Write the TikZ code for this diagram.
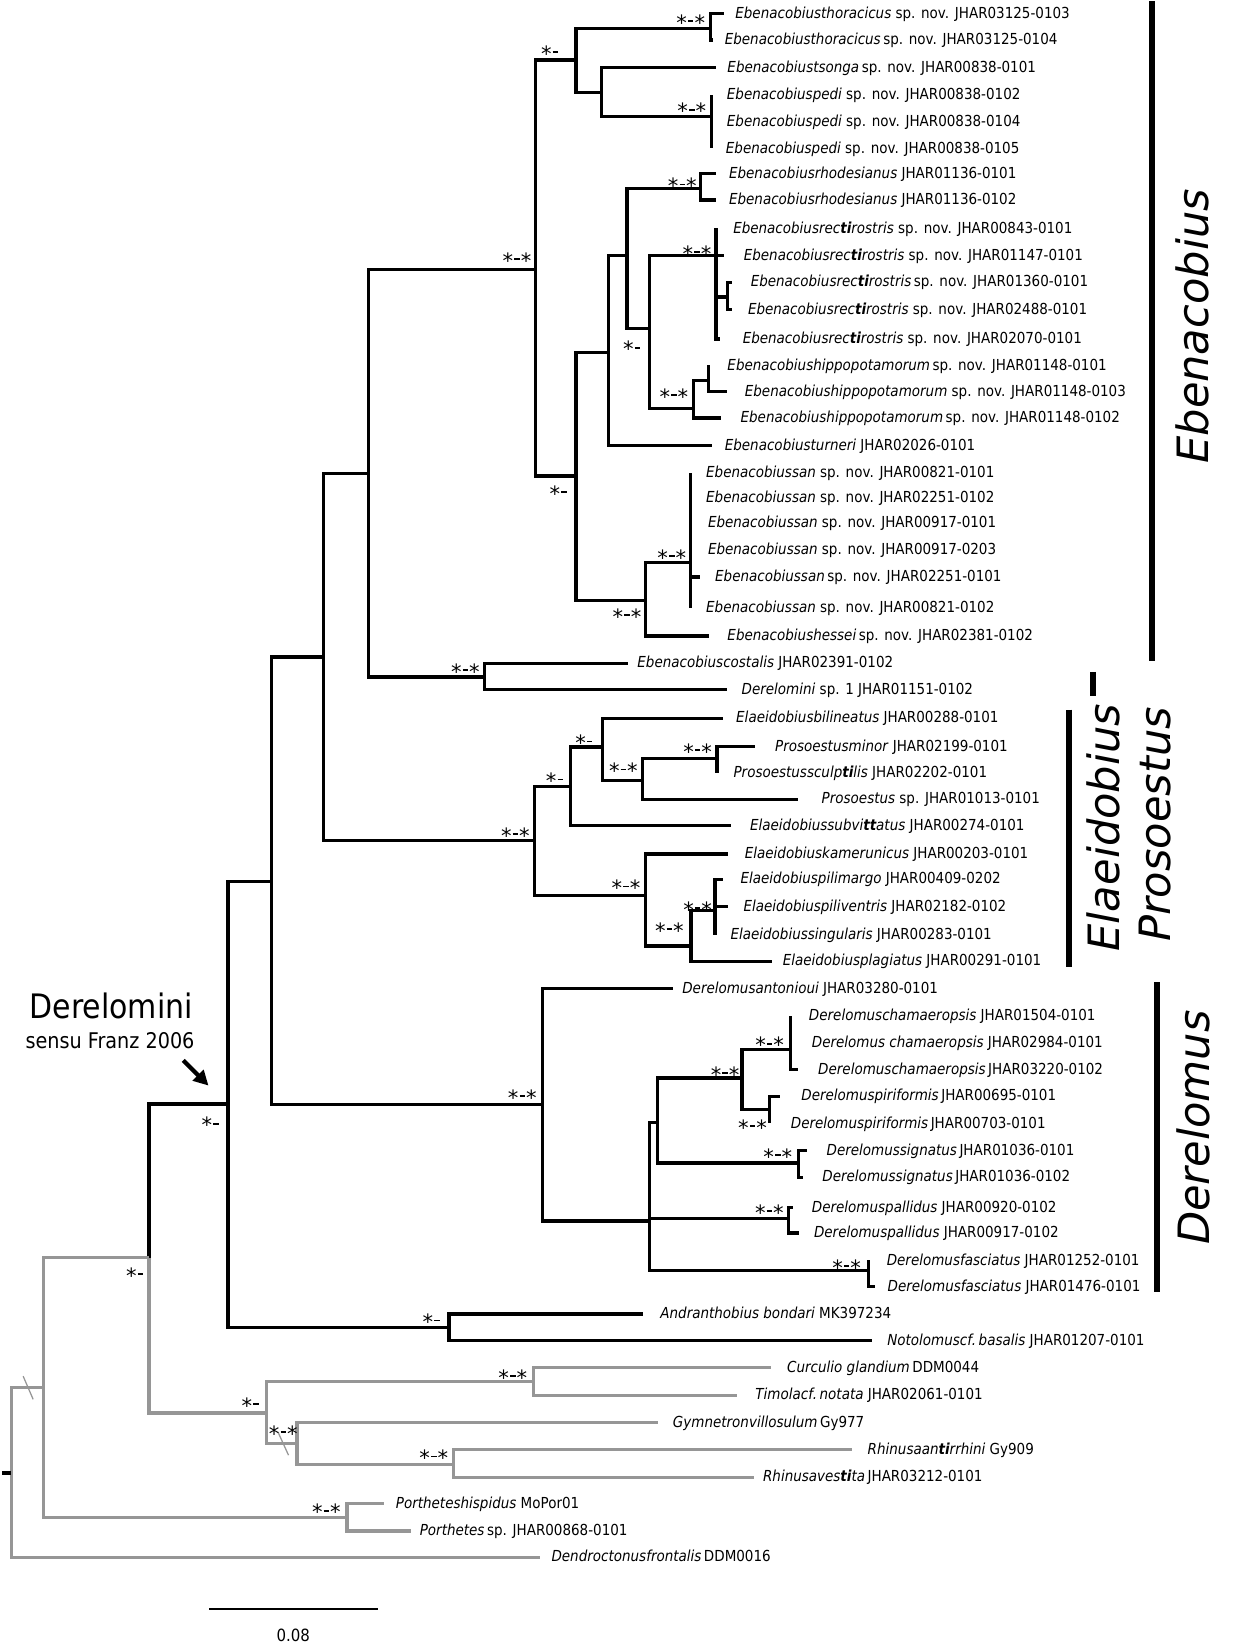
\documentclass[tikz,border=0pt]{standalone}
\usepackage{fontspec}
\usetikzlibrary{arrows.meta}
\newfontfamily\tipfont{DejaVu Sans}[FakeStretch=0.89, ItalicFont={DejaVu Sans Oblique}, BoldFont={DejaVu Sans Bold}, BoldItalicFont={DejaVu Sans Bold Oblique}]
\newfontfamily\bigfont{DejaVu Sans}[ItalicFont={DejaVu Sans Oblique}]
\newfontfamily\supfont{DejaVu Sans}
\definecolor{og}{RGB}{150,150,150}
\newcommand\bti{{\bfseries ti}}
\newcommand\btt{{\bfseries tt}}
\newcommand\sdash{\hspace{0.05em}\rule[0.4em]{0.26em}{0.08em}\hspace{0.05em}}
\newcommand\supAA{*\sdash*}
\newcommand\supAB{*\sdash}
\begin{document}
\begin{tikzpicture}[x=0.5pt,y=-0.5pt,
  tree/.style={line width=1.5pt},
  ogtree/.style={line width=1.5pt, draw=og},
  tip/.style={font=\tipfont\fontsize{7.2pt}{8pt}\selectfont, anchor=base west, inner sep=0pt, yshift=-2.2pt},
  sup/.style={font=\supfont\fontsize{10pt}{11pt}\selectfont, anchor=base, inner sep=0pt, yshift=-6pt},
  bar/.style={line width=2.75pt},
  clade/.style={font=\bigfont\itshape\fontsize{20.5pt}{22pt}\selectfont, rotate=90, anchor=base, inner sep=0pt}]
\useasboundingbox (0,0) rectangle (1173,1568);
% ---------- Ebenacobius
\coordinate (thor) at (675,27);
\coordinate (t1) at (688,13);
\coordinate (t2) at (677,38);
\coordinate (pedi) at (676,111);
\coordinate (t4) at (676,90);
\coordinate (t5) at (676,116);
\coordinate (t6) at (676,141);
\coordinate (tp) at (571,88);
\coordinate (t3) at (680,64);
\coordinate (top) at (547,57);
\coordinate (rhod) at (665,179);
\coordinate (t7) at (680,165);
\coordinate (t8) at (680,190);
\coordinate (recti) at (680,243);
\coordinate (t9) at (680,217);
\coordinate (t10) at (688,243);
\coordinate (r2) at (691,282);
\coordinate (t11) at (695.5,268);
\coordinate (t12) at (695.5,294);
\coordinate (t13) at (684,322);
\coordinate (h2) at (673,361);
\coordinate (t14) at (673,347);
\coordinate (t15) at (690,372);
\coordinate (hippo) at (659,388);
\coordinate (t16) at (685,397);
\coordinate (rh) at (617,312);
\coordinate (rr) at (595.5,243);
\coordinate (rt) at (578,335);
\coordinate (t17) at (676,423);
\coordinate (san) at (655.6,534);
\coordinate (t18) at (655.6,449);
\coordinate (t19) at (655.6,473);
\coordinate (t20) at (655.6,497);
\coordinate (t21) at (655.6,522);
\coordinate (t22) at (665,548);
\coordinate (t23) at (655.6,577);
\coordinate (sh) at (613,570.6);
\coordinate (t24) at (673,604);
\coordinate (v546) at (547,452);
\coordinate (eb) at (508.5,256);
\coordinate (cost) at (460,643);
\coordinate (t25) at (596.6,630);
\coordinate (t26) at (690,655);
\coordinate (v350) at (349.8,449.6);
% ---------- Elaeidobius / Prosoestus
\coordinate (ms) at (681,720.7);
\coordinate (t28) at (717,709);
\coordinate (t29) at (681,734);
\coordinate (v609) at (609.8,741);
\coordinate (t30) at (758,759);
\coordinate (v572) at (572,709.4);
\coordinate (t27) at (686.4,682);
\coordinate (v542) at (542,746.6);
\coordinate (t31) at (694.6,784);
\coordinate (pili) at (679,865);
\coordinate (t33) at (686.4,835);
\coordinate (t34) at (691.4,861);
\coordinate (t35) at (679,888);
\coordinate (v656) at (656.3,898.4);
\coordinate (t36) at (733,913);
\coordinate (kam) at (613.1,850.5);
\coordinate (t32) at (691.4,811);
\coordinate (el) at (508,798);
\coordinate (v307) at (307,624);
% ---------- Derelomus
\coordinate (cham) at (750.7,996.5);
\coordinate (t38) at (750.7,965);
\coordinate (t39) at (750.7,990);
\coordinate (t40) at (758,1016);
\coordinate (pirif) at (730.7,1054);
\coordinate (t41) at (740.7,1041);
\coordinate (t42) at (730.7,1067);
\coordinate (v705) at (704.7,1023.8);
\coordinate (sign) at (758.7,1104.5);
\coordinate (t43) at (766.7,1093);
\coordinate (t44) at (762.7,1118);
\coordinate (v625) at (624.8,1066);
\coordinate (pall) at (748.7,1157.4);
\coordinate (t45) at (752.7,1147);
\coordinate (t46) at (758.7,1171);
\coordinate (fasc) at (824.6,1207);
\coordinate (t47) at (824.6,1197);
\coordinate (t48) at (830.6,1222);
\coordinate (v617) at (616.8,1159.6);
\coordinate (t37) at (638.8,939);
\coordinate (der) at (514.9,1049);
\coordinate (v258) at (258,837);
\coordinate (andr) at (426.4,1260.7);
\coordinate (t49) at (610.7,1248);
\coordinate (t50) at (828.3,1273);
\coordinate (dmini) at (216.5,1048.5);
% ---------- outgroups
\coordinate (curc) at (506.4,1312);
\coordinate (t51) at (732.3,1299);
\coordinate (t52) at (700.2,1325);
\coordinate (rhin) at (430.3,1391);
\coordinate (t54) at (808.9,1377);
\coordinate (t55) at (716,1403);
\coordinate (v282) at (282,1371);
\coordinate (t53) at (625,1351);
\coordinate (v253) at (253,1342);
\coordinate (x143) at (141.5,1194.5);
\coordinate (port) at (329.5,1441);
\coordinate (t56) at (364.4,1428);
\coordinate (t57) at (390,1454);
\coordinate (v41) at (41.5,1318);
\coordinate (root) at (10.7,1399);
\coordinate (rtick) at (2,1399);
\coordinate (t58) at (512.7,1479);
% ---------- black branches
\foreach \p/\c in {thor/t1,thor/t2,pedi/t4,pedi/t5,pedi/t6,tp/t3,tp/pedi,top/thor,top/tp,eb/top,
  rhod/t7,rhod/t8,recti/t9,recti/t10,recti/r2,recti/t13,r2/t11,r2/t12,h2/t14,h2/t15,hippo/h2,hippo/t16,
  rh/recti,rh/hippo,rr/rhod,rr/rh,rt/rr,rt/t17,san/t18,san/t19,san/t20,san/t21,san/t22,san/t23,
  sh/san,sh/t24,v546/rt,v546/sh,eb/v546,cost/t25,cost/t26,v350/eb,v350/cost,
  ms/t28,ms/t29,v609/ms,v609/t30,v572/t27,v572/v609,v542/v572,v542/t31,pili/t33,pili/t34,pili/t35,
  v656/pili,v656/t36,kam/t32,kam/v656,el/v542,el/kam,v307/v350,v307/el,
  cham/t38,cham/t39,cham/t40,pirif/t41,pirif/t42,v705/cham,v705/pirif,sign/t43,sign/t44,
  v625/v705,v625/sign,pall/t45,pall/t46,fasc/t47,fasc/t48,v617/v625,v617/pall,v617/fasc,
  der/t37,der/v617,v258/v307,v258/der,andr/t49,andr/t50,dmini/v258,dmini/andr,x143/dmini}
  \draw[tree] (\p) |- (\c);
% ---------- grey branches
\foreach \p/\c in {x143/v253,v253/curc,v253/v282,curc/t51,curc/t52,v282/t53,v282/rhin,rhin/t54,rhin/t55,
  v41/x143,v41/port,port/t56,port/t57,root/v41,root/t58}
  \draw[ogtree] (\p) |- (\c);
\draw[line width=2pt] (rtick) -- (root);
\draw[og, line width=0.6pt] (22,1307) -- (31.5,1329);
\draw[og, line width=0.6pt] (264,1360) -- (274,1382);
% ---------- tip labels
\node[tip] (l1) at (698,13) {\textit{Ebenacobiusthoracicus} sp. nov. JHAR03125-0103};
\node[tip] (l2) at (688,38) {\textit{Ebenacobiusthoracicus}\,sp. nov. JHAR03125-0104};
\node[tip] (l3) at (690.5,64) {\textit{Ebenacobiustsonga}\,sp. nov. JHAR00838-0101};
\node[tip] (l4) at (690,90) {\textit{Ebenacobiuspedi} sp. nov. JHAR00838-0102};
\node[tip] (l5) at (690,116) {\textit{Ebenacobiuspedi} sp. nov. JHAR00838-0104};
\node[tip] (l6) at (689,141) {\textit{Ebenacobiuspedi} sp. nov. JHAR00838-0105};
\node[tip] (l7) at (692,165) {\textit{Ebenacobiusrhodesianus} JHAR01136-0101};
\node[tip] (l8) at (692,190) {\textit{Ebenacobiusrhodesianus} JHAR01136-0102};
\node[tip] (l9) at (696,217) {\textit{Ebenacobiusrec\bti rostris} sp. nov. JHAR00843-0101};
\node[tip] (l10) at (706,243) {\textit{Ebenacobiusrec\bti rostris} sp. nov. JHAR01147-0101};
\node[tip] (l11) at (712.6,268) {\textit{Ebenacobiusrec\bti rostris}\,sp. nov. JHAR01360-0101};
\node[tip] (l12) at (710,294) {\textit{Ebenacobiusrec\bti rostris} sp. nov. JHAR02488-0101};
\node[tip] (l13) at (705,322) {\textit{Ebenacobiusrec\bti rostris} sp. nov. JHAR02070-0101};
\node[tip] (l14) at (690.5,347) {\textit{Ebenacobiushippopotamorum}\,sp. nov. JHAR01148-0101};
\node[tip] (l15) at (707,372) {\textit{Ebenacobiushippopotamorum} sp. nov. JHAR01148-0103};
\node[tip] (l16) at (703,397) {\textit{Ebenacobiushippopotamorum}\,sp. nov. JHAR01148-0102};
\node[tip] (l17) at (688,423) {\textit{Ebenacobiusturneri} JHAR02026-0101};
\node[tip] (l18) at (670.3,449) {\textit{Ebenacobiussan} sp. nov. JHAR00821-0101};
\node[tip] (l19) at (670.3,473) {\textit{Ebenacobiussan} sp. nov. JHAR02251-0102};
\node[tip] (l20) at (672,497) {\textit{Ebenacobiussan} sp. nov. JHAR00917-0101};
\node[tip] (l21) at (672,522) {\textit{Ebenacobiussan} sp. nov. JHAR00917-0203};
\node[tip] (l22) at (678.8,548) {\textit{Ebenacobiussan}\,sp. nov. JHAR02251-0101};
\node[tip] (l23) at (670.3,577) {\textit{Ebenacobiussan} sp. nov. JHAR00821-0102};
\node[tip] (l24) at (690.5,604) {\textit{Ebenacobiushessei}\,sp. nov. JHAR02381-0102};
\node[tip] (l25) at (605,630) {\textit{Ebenacobiuscostalis} JHAR02391-0102};
\node[tip] (l26) at (704,655) {\textit{Derelomini} sp. 1 JHAR01151-0102};
\node[tip] (l27) at (698.8,682) {\textit{Elaeidobiusbilineatus} JHAR00288-0101};
\node[tip] (l28) at (735.8,709) {\textit{Prosoestusminor} JHAR02199-0101};
\node[tip] (l29) at (696.3,734) {\textit{Prosoestussculp\bti lis} JHAR02202-0101};
\node[tip] (l30) at (780,759) {\textit{Prosoestus} sp. JHAR01013-0101};
\node[tip] (l31) at (712,784) {\textit{Elaeidobiussubvi\btt atus} JHAR00274-0101};
\node[tip] (l32) at (707,811) {\textit{Elaeidobiuskamerunicus} JHAR00203-0101};
\node[tip] (l33) at (703,835) {\textit{Elaeidobiuspilimargo} JHAR00409-0202};
\node[tip] (l34) at (705.8,861) {\textit{Elaeidobiuspiliventris} JHAR02182-0102};
\node[tip] (l35) at (693.4,888) {\textit{Elaeidobiussingularis} JHAR00283-0101};
\node[tip] (l36) at (743,913) {\textit{Elaeidobiusplagiatus} JHAR00291-0101};
\node[tip] (l37) at (647.6,939) {\textit{Derelomusantonioui} JHAR03280-0101};
\node[tip] (l38) at (767.9,965) {\textit{Derelomuschamaeropsis} JHAR01504-0101};
\node[tip] (l39) at (770.7,990) {\textit{Derelomus chamaeropsis} JHAR02984-0101};
\node[tip] (l40) at (776.7,1016) {\textit{Derelomuschamaeropsis}\,JHAR03220-0102};
\node[tip] (l41) at (760.7,1041) {\textit{Derelomuspiriformis}\,JHAR00695-0101};
\node[tip] (l42) at (750.7,1067) {\textit{Derelomuspiriformis}\,JHAR00703-0101};
\node[tip] (l43) at (784.7,1093) {\textit{Derelomussignatus}\,JHAR01036-0101};
\node[tip] (l44) at (780.7,1118) {\textit{Derelomussignatus}\,JHAR01036-0102};
\node[tip] (l45) at (770.7,1147) {\textit{Derelomuspallidus} JHAR00920-0102};
\node[tip] (l46) at (772.7,1171) {\textit{Derelomuspallidus} JHAR00917-0102};
\node[tip] (l47) at (841.8,1197) {\textit{Derelomusfasciatus} JHAR01252-0101};
\node[tip] (l48) at (842.6,1222) {\textit{Derelomusfasciatus} JHAR01476-0101};
\node[tip] (l49) at (626.8,1248) {\textit{Andranthobius bondari} MK397234};
\node[tip] (l50) at (842.3,1273) {\textit{Notolomuscf.\,basalis} JHAR01207-0101};
\node[tip] (l51) at (747.2,1299) {\textit{Curculio glandium}\,DDM0044};
\node[tip] (l52) at (717.1,1325) {\textit{Timolacf.\,notata} JHAR02061-0101};
\node[tip] (l53) at (638.7,1351) {\textit{Gymnetronvillosulum}\,Gy977};
\node[tip] (l54) at (823.7,1377) {\textit{Rhinusaan\bti rrhini} Gy909};
\node[tip] (l55) at (724.3,1403) {\textit{Rhinusaves\bti ta}\,JHAR03212-0101};
\node[tip] (l56) at (375.6,1428) {\textit{Portheteshispidus} MoPor01};
\node[tip] (l57) at (398.3,1454) {\textit{Porthetes}\,sp. JHAR00868-0101};
\node[tip] (l58) at (523.4,1479) {\textit{Dendroctonusfrontalis}\,DDM0016};
% ---------- support values
\node[sup] (s1) at (656,17) {\supAA};
\node[sup] (s2) at (522,46) {\supAB};
\node[sup] (s3) at (657,101) {\supAA};
\node[sup] (s4) at (648,172) {\supAA};
\node[sup] (s5) at (491,243) {\supAA};
\node[sup] (s6) at (662,236) {\supAA};
\node[sup] (s7) at (600,327) {\supAB};
\node[sup] (s8) at (640,372) {\supAA};
\node[sup] (s9) at (530,464) {\supAB};
\node[sup] (s10) at (638,525) {\supAA};
\node[sup] (s11) at (595.5,581) {\supAA};
\node[sup] (s12) at (442,633) {\supAA};
\node[sup] (s13) at (554.6,701) {\supAB};
\node[sup] (s14) at (662.5,709.4) {\supAA};
\node[sup] (s15) at (526.6,737) {\supAB};
\node[sup] (s16) at (592,727.7) {\supAA};
\node[sup] (s17) at (489.5,789) {\supAA};
\node[sup] (s18) at (594.5,838.6) {\supAA};
\node[sup] (s19) at (635.7,879) {\supAA};
\node[sup] (s20) at (662.5,859) {\supAA};
\node[sup] (s21) at (496,1038) {\supAA};
\node[sup] (s22) at (731,988) {\supAA};
\node[sup] (s23) at (688.7,1016) {\supAA};
\node[sup] (s24) at (714.7,1066) {\supAA};
\node[sup] (s25) at (738.7,1094) {\supAA};
\node[sup] (s26) at (730.7,1147) {\supAA};
\node[sup] (s27) at (804,1199) {\supAA};
\node[sup] (s28) at (199.5,1064) {\supAB};
\node[sup] (s29) at (128,1207) {\supAB};
\node[sup] (s30) at (409.5,1251) {\supAB};
\node[sup] (s31) at (487,1303.4) {\supAA};
\node[sup] (s32) at (237.5,1330) {\supAB};
\node[sup] (s33) at (269,1357) {\supAA};
\node[sup] (s34) at (412,1380) {\supAA};
\node[sup] (s35) at (310,1431.5) {\supAA};
% ---------- clade bars and names
\coordinate (eb1) at (1094,1); \coordinate (eb2) at (1094,627.5);
\draw[bar, line width=3pt] (eb1) -- (eb2);
\coordinate (sb1a) at (1038,638); \coordinate (sb1b) at (1038,661);
\draw[bar] (sb1a) -- (sb1b);
\coordinate (el1) at (1015,674); \coordinate (el2) at (1015,918);
\draw[bar] (el1) -- (el2);
\coordinate (de1) at (1099,933); \coordinate (de2) at (1099,1227);
\draw[bar] (de1) -- (de2);
\node[clade] (cEb) at (1148,310) {Ebenacobius};
\node[clade] (cEl) at (1063,786) {Elaeidobius};
\node[clade] (cPr) at (1112,783) {Prosoestus};
\node[clade] (cDe) at (1149,1071) {Derelomus};
% ---------- Derelomini annotation
\node[font=\tipfont\fontsize{16pt}{18pt}\selectfont, anchor=base, inner sep=0pt] (dtitle) at (105.5,967) {Derelomini};
\node[font=\tipfont\fontsize{10.25pt}{12pt}\selectfont, anchor=base, inner sep=0pt] (dsub) at (104.5,995.7) {sensu Franz 2006};
\coordinate (atail) at (174,1007);
\coordinate (ahead) at (198,1031);
\draw[line width=2pt, -{Triangle[length=7pt,width=7pt]}] (atail) -- (ahead);
% ---------- scale bar
\coordinate (sc1) at (198.7,1528); \coordinate (sc2) at (358.6,1528);
\draw[line width=1pt] (sc1) -- (sc2);
\node[font=\tipfont\fontsize{8pt}{9pt}\selectfont, inner sep=0pt] (sclab) at (278.6,1553) {0.08};
\end{tikzpicture}
\end{document}
